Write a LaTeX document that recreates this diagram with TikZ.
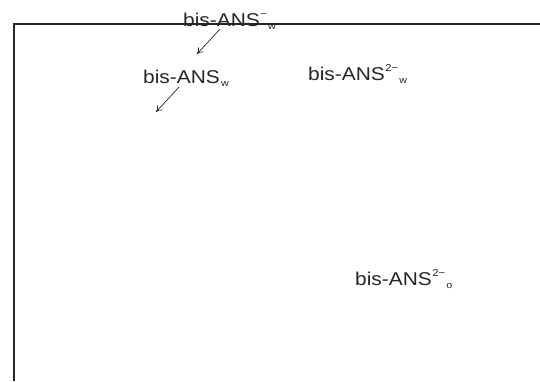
\documentclass[tikz,border=0pt]{standalone}
\usepackage{fontspec}
\setmainfont{Liberation Sans}
\usetikzlibrary{arrows.meta}
\newcommand\mysup[1]{\kern0.5pt\raisebox{9pt}{\fontsize{10}{10}\selectfont #1}}
\newcommand\mysub[1]{\kern1pt\raisebox{-3pt}{\fontsize{9.5}{9.5}\selectfont #1}}
\newcommand\lbl[1]{\scalebox{1.13}[1]{#1}}
\begin{document}
\begin{tikzpicture}[x=1pt,y=-1pt,
  lab/.style={anchor=base west,inner sep=0pt,font=\fontsize{18.5}{18.5}\selectfont,text=black!85},
  frameline/.style={draw=black!85,line width=1.2pt},
  arr/.style={draw=black!85,line width=0.7pt,-{To[length=6pt,width=7pt]}}]
\useasboundingbox (0,0) rectangle (540,381);
\coordinate (fTR) at (540,24);
\coordinate (fTL) at (14,24);
\coordinate (fBL) at (14,381);
\draw[frameline] (fTR) -- (fTL) -- (fBL);
\node[lab] (t1) at (183,26) {\lbl{bis-ANS\mysup{−}\mysub{w}}};
\node[lab] (t2) at (143,83) {\lbl{bis-ANS\mysub{w}}};
\node[lab] (t3) at (308,80) {\lbl{bis-ANS\mysup{2−}\mysub{w}}};
\node[lab] (t4) at (355,285) {\lbl{bis-ANS\mysup{2−}\mysub{o}}};
\coordinate (a1s) at (220,29);
\coordinate (a1e) at (197,54);
\coordinate (a2s) at (179,87);
\coordinate (a2e) at (156,112);
\draw[arr] (a1s) -- (a1e);
\draw[arr] (a2s) -- (a2e);
\end{tikzpicture}
\end{document}
